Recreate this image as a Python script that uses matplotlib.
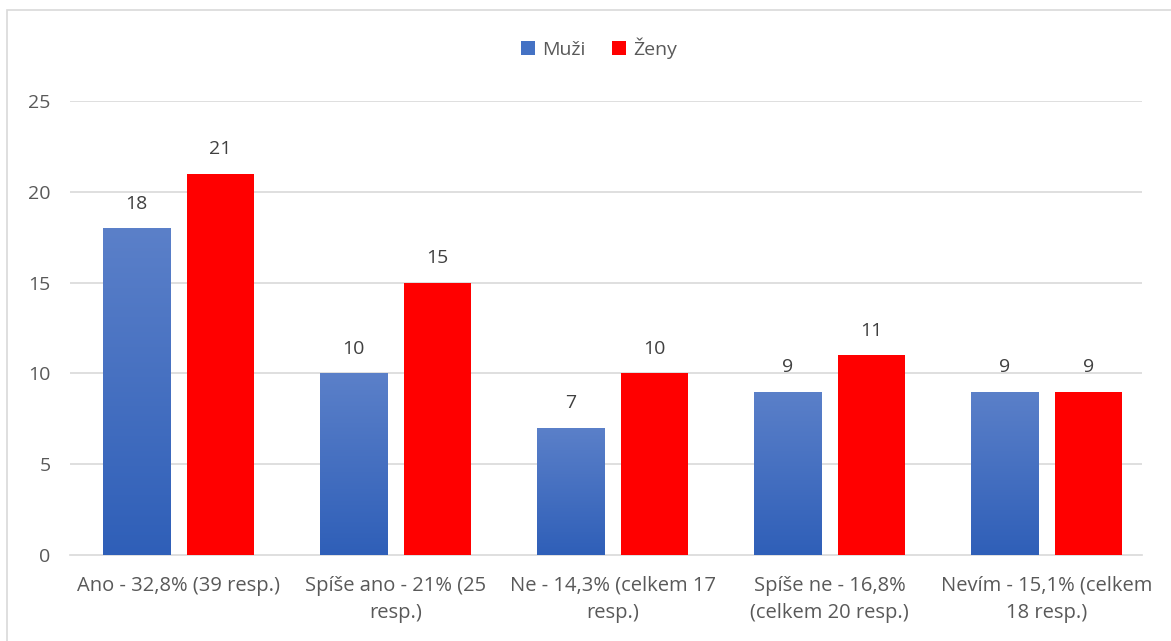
import numpy as np
import matplotlib.pyplot as plt
from matplotlib.patches import Rectangle
from matplotlib.colors import LinearSegmentedColormap

categories = ['Ano - 32,8% (39 resp.)', 'Spíše ano - 21% (25\nresp.)',
              'Ne - 14,3% (celkem 17\nresp.)', 'Spíše ne - 16,8%\n(celkem 20 resp.)',
              'Nevím - 15,1% (celkem\n18 resp.)']
muzi = [18, 10, 7, 9, 9]
zeny = [21, 15, 10, 11, 9]
yticks = [0, 5, 10, 15, 20, 25]

text_color = '#595959'
plt.rcParams['font.family'] = ['Open Sans', 'DejaVu Sans']

fig = plt.figure(figsize=(11.71, 6.41), dpi=100)
ax = fig.add_axes([70 / 1171, 1 - 555 / 641, 1085 / 1171, 454 / 641])

# chart border
fig.patches.append(Rectangle((7 / 1171, -0.1), 1.2, 1 - 10 / 641 + 0.1,
                             transform=fig.transFigure, fill=False,
                             edgecolor='#d9d9d9', linewidth=1.2))

x = np.arange(len(categories))
w = 0.309
off = 0.194

blue_cmap = LinearSegmentedColormap.from_list('b', ['#2f5fb8', '#5b80c9'])
bars_m = ax.bar(x - off, muzi, w, color='#4472c4', label='Muži', zorder=3)
bars_z = ax.bar(x + off, zeny, w, color='#ff0000', label='Ženy', zorder=3)

# gradient fill for blue bars
grad = np.linspace(0, 1, 256).reshape(-1, 1)
for b in bars_m:
    bx, by = b.get_x(), b.get_y()
    bw, bh = b.get_width(), b.get_height()
    im = ax.imshow(grad, cmap=blue_cmap, aspect='auto', origin='lower',
                   extent=[bx, bx + bw, by, by + bh], zorder=3.5)
    im.set_clip_path(b)

for bars, vals in ((bars_m, muzi), (bars_z, zeny)):
    for b, v in zip(bars, vals):
        ax.text(b.get_x() + b.get_width() / 2, v + 0.85, str(v),
                ha='center', va='bottom', fontsize=14, color='#404040')

ax.set_xlim(-0.5, 4.5)
ax.set_ylim(0, 25)
ax.set_yticks(yticks)
ax.set_xticks(x)
ax.set_xticklabels(categories, fontsize=14.5, color=text_color, linespacing=1.45)
ax.tick_params(axis='y', labelsize=14, labelcolor=text_color, length=0, pad=14)
ax.tick_params(axis='x', length=0, pad=15)
# gridlines stop a bit short of the right edge, like in the original
ax.hlines(yticks[1:], -0.5, 4.44, color='#d9d9d9', linewidth=1.2, zorder=0)
for s in ['top', 'right', 'left']:
    ax.spines[s].set_visible(False)
ax.spines['bottom'].set_color('#d9d9d9')
ax.spines['bottom'].set_linewidth(1.2)
ax.spines['bottom'].set_bounds(-0.5, 4.44)

leg = fig.legend(handles=[bars_m, bars_z], labels=['Muži', 'Ženy'],
                 loc='center', bbox_to_anchor=(599 / 1171, 1 - 48 / 641),
                 ncol=2, frameon=False, fontsize=14, handlelength=0.7,
                 handleheight=0.7, handletextpad=0.35, columnspacing=1.4)
for t in leg.get_texts():
    t.set_color(text_color)

fig.savefig('out.png', dpi=100)
